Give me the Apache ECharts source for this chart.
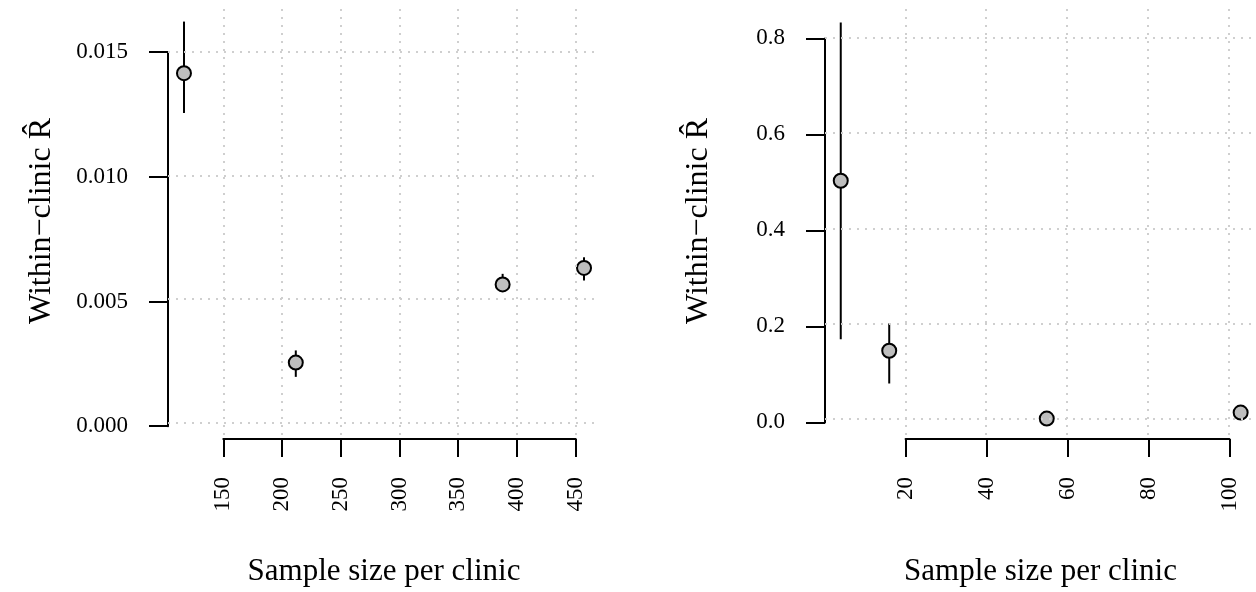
<!DOCTYPE html>
<html>
<head>
<meta charset="utf-8">
<script src="https://cdn.jsdelivr.net/npm/echarts@6/dist/echarts.min.js"></script>
<style>
  html, body { margin: 0; padding: 0; background: #fff; }
  #chart { width: 1256px; height: 592px; }
</style>
</head>
<body>
<div id="chart"></div>
<script>
// left panel: large clinics
var leftSize = [116.5, 211.7, 387.8, 457.1];
var leftR = [0.01413, 0.00242, 0.00558, 0.00625];
var leftLow = [0.01252, 0.00184, 0.00530, 0.00574];
var leftHigh = [0.01622, 0.00291, 0.00601, 0.00668];
var leftXTicks = [150, 200, 250, 300, 350, 400, 450];
var leftYTicks = [0, 0.005, 0.010, 0.015];

// right panel: small clinics
var rightSize = [4, 16, 55, 103];
var rightR = [0.5, 0.1425, 0.0, 0.0125];
var rightLow = [0.1667, 0.0737, null, null];
var rightHigh = [0.833, 0.2, null, null];
var rightXTicks = [20, 40, 60, 80, 100];
var rightYTicks = [0, 0.2, 0.4, 0.6, 0.8];

var font = 'Liberation Serif';
var xName = 'Sample size per clinic';
var yName = 'Within\u2212clinic R\u0302';

var panels = [
  {
    box: { left: 168, top: 7, width: 432, height: 432 },
    xlim: [102.9, 470.7], ylim: [-0.000513, 0.01681],
    x: leftSize, y: leftR, lo: leftLow, hi: leftHigh,
    xTicks: leftXTicks, yTicks: leftYTicks, yDigits: 3
  },
  {
    box: { left: 825, top: 7, width: 432, height: 432 },
    xlim: [0.1, 106.8], ylim: [-0.0346, 0.8654],
    x: rightSize, y: rightR, lo: rightLow, hi: rightHigh,
    xTicks: rightXTicks, yTicks: rightYTicks, yDigits: 1
  }
];

var grids = [], xAxes = [], yAxes = [], series = [];
var hidden = { show: false, type: 'value', min: 0, max: 1 };
var gridStyle = { color: '#cfcfcf', width: 2, type: [2, 6] };
var axisLineStyle = { color: '#000', width: 2 };

panels.forEach(function (p) {
  var b = p.box;
  var xs = b.width / (p.xlim[1] - p.xlim[0]);
  var ys = b.height / (p.ylim[1] - p.ylim[0]);
  var xt = p.xTicks, yt = p.yTicks;
  var xStep = xt[1] - xt[0], yStep = yt[1] - yt[0];
  var g0 = grids.length;

  // plot region
  grids.push({ left: b.left, top: b.top, width: b.width, height: b.height });
  xAxes.push({
    type: 'value', gridIndex: g0, min: p.xlim[0], max: p.xlim[1],
    axisLine: { show: false }, axisTick: { show: false },
    axisLabel: { show: false }, splitLine: { show: false },
    name: xName, nameLocation: 'middle', nameGap: 121,
    nameTextStyle: { fontFamily: font, fontSize: 31, color: '#000' }
  });
  yAxes.push({
    type: 'value', gridIndex: g0, min: p.ylim[0], max: p.ylim[1],
    axisLine: { show: false }, axisTick: { show: false },
    axisLabel: { show: false }, splitLine: { show: false },
    name: yName, nameLocation: 'middle', nameGap: 110,
    nameTextStyle: { fontFamily: font, fontSize: 32, color: '#000' }
  });

  // x axis, only spanning its ticks
  grids.push({
    left: b.left + (xt[0] - p.xlim[0]) * xs,
    width: (xt[xt.length - 1] - xt[0]) * xs,
    top: b.top, height: b.height
  });
  xAxes.push({
    type: 'value', gridIndex: g0 + 1, min: xt[0], max: xt[xt.length - 1], interval: xStep,
    axisLine: { show: true, lineStyle: axisLineStyle },
    axisTick: { show: true, length: 18, lineStyle: axisLineStyle },
    axisLabel: { rotate: 90, margin: 38, fontFamily: font, fontSize: 23, color: '#000' },
    splitLine: { show: false }
  });
  yAxes.push(Object.assign({ gridIndex: g0 + 1 }, hidden));

  // y axis, only spanning its ticks
  grids.push({
    left: b.left, width: b.width,
    top: b.top + (p.ylim[1] - yt[yt.length - 1]) * ys,
    height: (yt[yt.length - 1] - yt[0]) * ys
  });
  xAxes.push(Object.assign({ gridIndex: g0 + 2 }, hidden));
  yAxes.push({
    type: 'value', gridIndex: g0 + 2, min: yt[0], max: yt[yt.length - 1], interval: yStep,
    axisLine: { show: true, lineStyle: axisLineStyle },
    axisTick: { show: true, length: 19, lineStyle: axisLineStyle },
    axisLabel: {
      margin: 40, fontFamily: font, fontSize: 23, color: '#000',
      formatter: function (v) { return v.toFixed(p.yDigits); }
    },
    splitLine: { show: false }
  });

  var bars = [];
  p.x.forEach(function (v, i) {
    if (p.lo[i] != null) bars.push([v, p.lo[i], p.hi[i]]);
  });
  var gridLines = xt.map(function (v) { return { xAxis: v }; })
    .concat(yt.map(function (v) { return { yAxis: v }; }));

  series.push({
    type: 'custom', xAxisIndex: g0, yAxisIndex: g0, z: 2,
    data: bars,
    encode: { x: 0, y: [1, 2] },
    renderItem: function (params, api) {
      var a = api.coord([api.value(0), api.value(1)]);
      var c = api.coord([api.value(0), api.value(2)]);
      return {
        type: 'line',
        shape: { x1: a[0], y1: a[1], x2: c[0], y2: c[1] },
        style: { stroke: '#000', lineWidth: 2 }
      };
    },
    markLine: {
      silent: true, symbol: 'none', label: { show: false },
      precision: 6,
      lineStyle: gridStyle, animation: false,
      data: gridLines
    }
  });
  series.push({
    type: 'scatter', xAxisIndex: g0, yAxisIndex: g0, z: 3,
    symbol: 'circle', symbolSize: 14,
    itemStyle: { color: '#bebebe', borderColor: '#000', borderWidth: 2, opacity: 1 },
    data: p.x.map(function (v, i) { return [v, p.y[i]]; })
  });
});

var chart = echarts.init(document.getElementById('chart'));
chart.setOption({
  animation: false,
  backgroundColor: '#fff',
  grid: grids,
  xAxis: xAxes,
  yAxis: yAxes,
  series: series
});
</script>
</body>
</html>
